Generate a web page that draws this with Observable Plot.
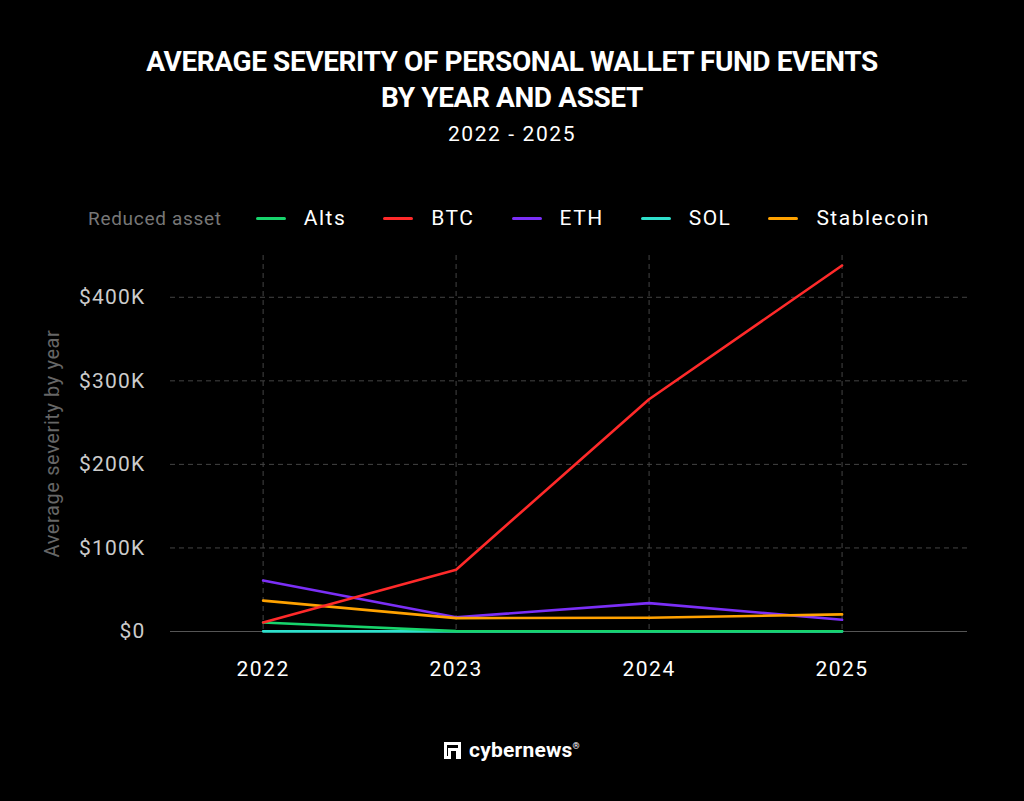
<!DOCTYPE html>
<html>
<head>
<meta charset="utf-8">
<script src="https://cdn.jsdelivr.net/npm/d3@7"></script>
<script src="https://cdn.jsdelivr.net/npm/@observablehq/plot@0.6"></script>
<style>
  html, body { margin: 0; padding: 0; background: #000; }
  body { width: 1024px; height: 801px; position: relative; overflow: hidden; font-family: Roboto, "Noto Sans", sans-serif; }
  #title { position: absolute; top: 44px; left: 0; width: 1024px; text-align: center; color: #fff;
           font-weight: 700; font-size: 28px; line-height: 36px; letter-spacing: -0.4px; }
  #subtitle { position: absolute; top: 122px; left: 0; width: 1024px; text-align: center; color: #fff;
              font-size: 21px; letter-spacing: 1.6px; }
  #legend { position: absolute; top: 205px; left: 88px; height: 26px; display: flex; align-items: center;
            font-size: 21px; color: #fff; letter-spacing: 1.5px; white-space: nowrap; }
  #legend .head { color: #777; font-size: 19px; letter-spacing: 0.7px; margin-right: 34px; }
  #legend .item { display: flex; align-items: center; margin-right: 37px; }
  #legend .sw { width: 30px; height: 3px; border-radius: 2px; margin-right: 18px; }
  #chart { position: absolute; top: 240px; left: 0; }
  #brand { position: absolute; top: 738px; left: 0; width: 1024px; display: flex; justify-content: center; align-items: center; color: #fff; }
  #brand .name { font-weight: 700; font-size: 21px; letter-spacing: 0.2px; margin-left: 8px; }
  #brand sup { font-size: 9px; font-weight: 700; }
</style>
</head>
<body>
<div id="title">AVERAGE SEVERITY OF PERSONAL WALLET FUND EVENTS<br>BY YEAR AND ASSET</div>
<div id="subtitle">2022 - 2025</div>
<div id="legend"></div>
<div id="chart"></div>
<div id="brand">
  <svg width="17" height="17" viewBox="0 0 17 17"><path d="M0 0H17V17H12V9H7V17H0Z M3 3V14H4V6H14V3Z" fill="#fff" fill-rule="evenodd"/></svg>
  <span class="name">cybernews<sup>®</sup></span>
</div>
<script>
// Years on the x axis
const years = [2022, 2023, 2024, 2025];

// Average severity per asset (USD)
const alts       = [10800, 400, 300, 300];
const btc        = [10800, 74000, 278000, 438000];
const eth        = [61000, 17000, 34000, 14000];
const sol        = [200, 100, 100, 100];
const stablecoin = [37000, 16000, 16500, 20500];

// Legend order and colours
const assetNames  = ["Alts", "BTC", "ETH", "SOL", "Stablecoin"];
const assetColors = ["#17d46c", "#ff2a2a", "#7b2ff7", "#2fe0cc", "#ffa200"];

// Y ticks
const yTicks = [0, 100000, 200000, 300000, 400000];

const seriesValues = {Alts: alts, BTC: btc, ETH: eth, SOL: sol, Stablecoin: stablecoin};
// Drawing order (later ones on top)
const drawOrder = ["SOL", "Alts", "ETH", "Stablecoin", "BTC"];
const rows = drawOrder.flatMap(a => years.map((y, i) => ({asset: a, year: y, value: seriesValues[a][i]})));

// Legend
const legend = document.getElementById("legend");
legend.innerHTML = `<span class="head">Reduced asset</span>` +
  assetNames.map((n, i) => `<span class="item"><span class="sw" style="background:${assetColors[i]}"></span>${n}</span>`).join("");

const fmt = v => v === 0 ? "$0" : `$${v / 1000}K`;

const chart = Plot.plot({
  width: 1024,
  height: 460,
  marginLeft: 170,
  marginRight: 57,
  marginTop: 15,
  marginBottom: 69,
  style: {background: "transparent", fontFamily: "Roboto, sans-serif", overflow: "visible"},
  x: {type: "linear", domain: [2021.52, 2025.65]},
  y: {domain: [0, 450000]},
  color: {domain: assetNames, range: assetColors},
  marks: [
    Plot.ruleX(years, {stroke: "#444", strokeDasharray: "5,4", strokeWidth: 1}),
    Plot.ruleY(yTicks.filter(d => d > 0), {stroke: "#444", strokeDasharray: "5,4", strokeWidth: 1}),
    Plot.ruleY([0], {stroke: "#555", strokeWidth: 1.2}),
    Plot.axisX({ticks: years, tickFormat: "d", tickSize: 0, tickPadding: 30, fontSize: 21, fill: "#fff", label: null}),
    Plot.axisY({ticks: yTicks, tickFormat: fmt, tickSize: 0, tickPadding: 25, fontSize: 21, fill: "#ccc",
                label: "Average severity by year", labelAnchor: "center", labelArrow: "none", labelOffset: 126}),
    Plot.line(rows, {x: "year", y: "value", z: "asset", stroke: "asset", strokeWidth: 2.6})
  ]
});

// axis text styling
chart.querySelectorAll("text").forEach(t => {
  if (t.textContent.startsWith("Average severity")) {
    t.setAttribute("fill", "#666");
    t.style.fontSize = "20px";
    t.style.letterSpacing = "0.6px";
  }
});
chart.querySelectorAll("g[aria-label='x-axis tick label']").forEach(g => g.style.letterSpacing = "1.5px");
chart.querySelectorAll("g[aria-label='y-axis tick label']").forEach(g => g.style.letterSpacing = "1.2px");
document.getElementById("chart").appendChild(chart);
</script>
</body>
</html>
